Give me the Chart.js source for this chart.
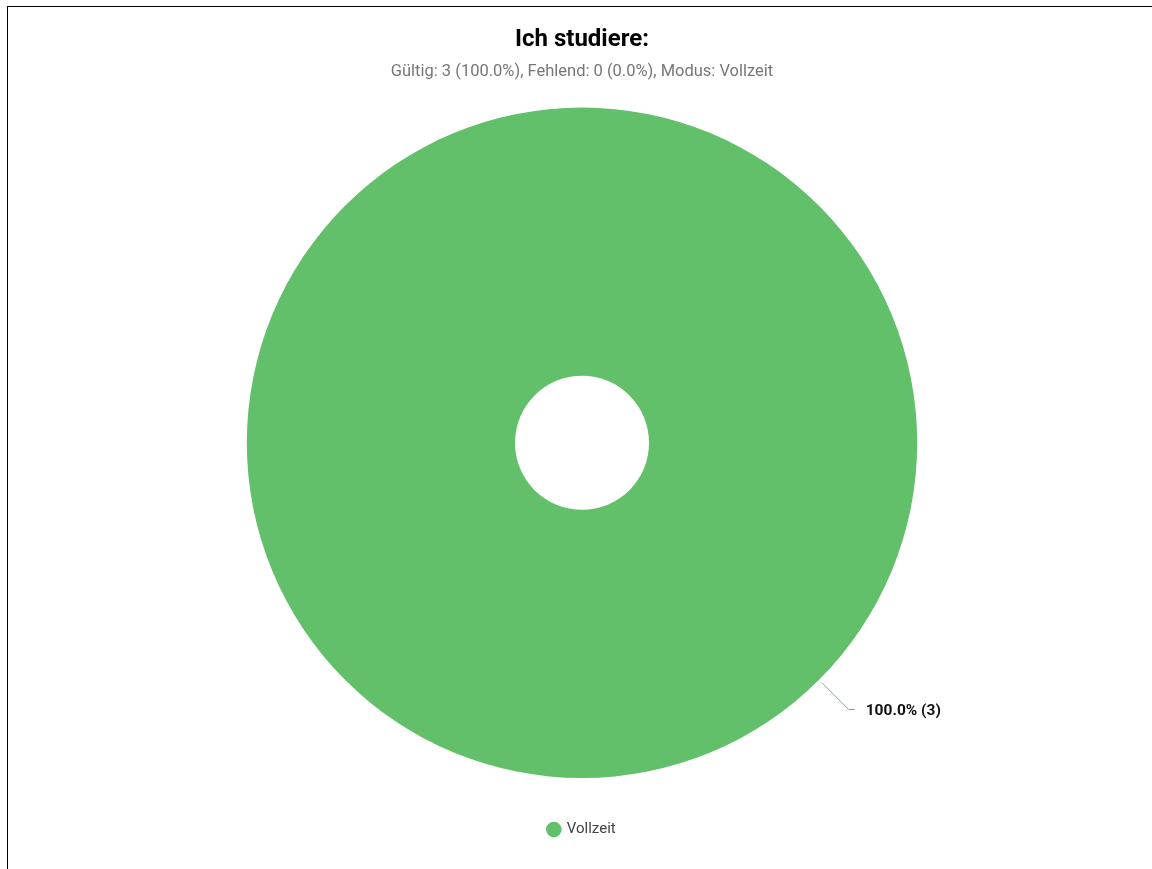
<!DOCTYPE html>
<html>
<head>
<meta charset="utf-8">
<script src="https://cdn.jsdelivr.net/npm/chart.js@4"></script>
<style>
  body { margin: 0; background: #fff; }
  #frame {
    position: absolute; left: 7px; top: 6px;
    width: 1148px; height: 870px;
    border: 1px solid #000;
  }
  #chart { display: block; }
</style>
</head>
<body>
<div id="frame"><canvas id="chart" width="1148" height="840"></canvas></div>
<script>
// ========== DATA ==========
const labels = ['Vollzeit'];
const counts = [3];
const colors = ['#62bf6a'];
const titleText = 'Ich studiere:';
const subtitleText = 'Gültig: 3 (100.0%), Fehlend: 0 (0.0%), Modus: Vollzeit';

// leader-line labels outside the slices
const outsideLabels = {
  id: 'outsideLabels',
  afterDatasetsDraw(chart) {
    const ctx = chart.ctx;
    const meta = chart.getDatasetMeta(0);
    const total = counts.reduce((a, b) => a + b, 0);
    meta.data.forEach((arc, i) => {
      const span = arc.endAngle - arc.startAngle;
      // a full circle gets its label at the lower right
      const angle = span >= Math.PI * 2 - 1e-6 ? Math.PI / 4 : (arc.startAngle + arc.endAngle) / 2;
      const r = arc.outerRadius;
      const x1 = arc.x + Math.cos(angle) * (r + 4);
      const y1 = arc.y + Math.sin(angle) * (r + 4);
      const x2 = arc.x + Math.cos(angle) * (r + 42);
      const y2 = arc.y + Math.sin(angle) * (r + 42);
      const right = Math.cos(angle) >= 0;
      const x3 = x2 + (right ? 6 : -6);
      ctx.save();
      ctx.strokeStyle = colors[i];
      ctx.lineWidth = 1;
      ctx.beginPath();
      ctx.moveTo(x1, y1);
      ctx.lineTo(x2, y2);
      ctx.lineTo(x3, y2);
      ctx.stroke();
      ctx.fillStyle = '#111';
      ctx.font = 'bold 15.5px Roboto';
      ctx.textAlign = right ? 'left' : 'right';
      ctx.textBaseline = 'middle';
      const pct = (counts[i] / total * 100).toFixed(1);
      ctx.fillText(pct + '% (' + counts[i] + ')', x3 + (right ? 11 : -11), y2 + 2);
      ctx.restore();
    });
  }
};

new Chart(document.getElementById('chart'), {
  type: 'doughnut',
  data: {
    labels: labels,
    datasets: [{
      data: counts,
      backgroundColor: colors,
      borderWidth: 0
    }]
  },
  options: {
    responsive: false,
    animation: false,
    cutout: '20%',
    layout: { padding: { top: 0, bottom: 0, left: 10, right: 10 } },
    plugins: {
      title: {
        display: true,
        text: titleText,
        color: '#000',
        font: { family: 'Roboto', size: 24, weight: 'bold' },
        padding: { top: 19, bottom: 7 }
      },
      subtitle: {
        display: true,
        text: subtitleText,
        color: '#777',
        font: { family: 'Roboto', size: 16.5 },
        padding: { bottom: 26 }
      },
      legend: {
        position: 'bottom',
        labels: {
          usePointStyle: true,
          pointStyle: 'circle',
          boxWidth: 11,
          boxHeight: 11,
          color: '#444',
          font: { family: 'Roboto', size: 15 },
          padding: 44
        }
      },
      tooltip: { enabled: false }
    }
  },
  plugins: [outsideLabels]
});
</script>
</body>
</html>
